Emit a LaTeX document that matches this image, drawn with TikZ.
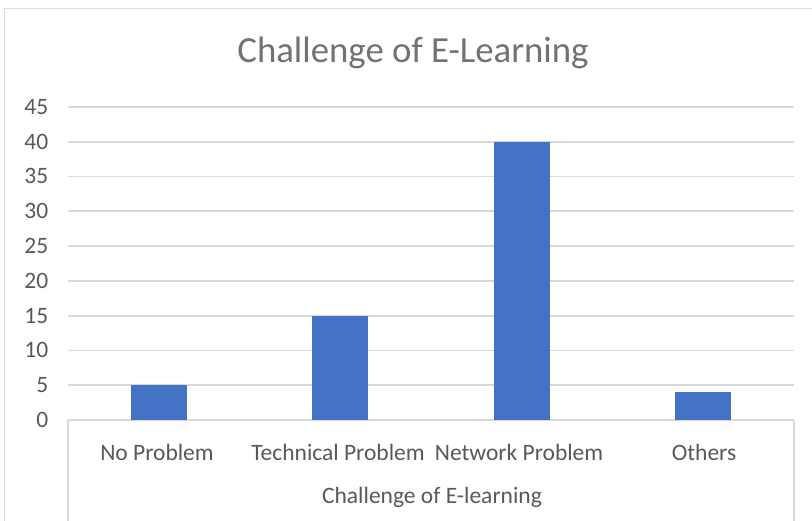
\documentclass[tikz,border=0pt]{standalone}
\usepackage{fontspec}
\setmainfont{Carlito}
\definecolor{txt}{HTML}{595959}
\definecolor{grid}{HTML}{D9D9D9}
\definecolor{bar}{HTML}{4472C4}
\begin{document}
\begin{tikzpicture}[x=1pt,y=-1pt,
  gridline/.style={draw=grid,line width=1.8pt},
  ticklab/.style={anchor=east,inner sep=0pt,text=txt,font=\fontsize{23.5}{28}\selectfont},
  catlab/.style={anchor=center,inner sep=0pt,text=txt,font=\fontsize{23.5}{28}\selectfont},
  barbox/.style={fill=bar,draw=none}]
\useasboundingbox (0,0) rectangle (812,520);
\fill[white] (0,0) rectangle (812,520);
% outer frame
\draw[grid,line width=1.2pt] (4.5,521) -- (4.5,8.5) -- (813,8.5);
% title
\node[text=txt!85,inner sep=0pt,font=\fontsize{36.8}{42}\selectfont] (title) at (413,53) {Challenge of E-Learning};
% gridlines and tick labels
\foreach \v in {0,5,...,45}{
  \draw[gridline] (68,{420-6.96*\v}) -- (794,{420-6.96*\v});
  \node[ticklab] (t\v) at (48.5,{420-6.96*\v}) {\v};
}
% category box
\draw[gridline] (68,420) -- (68,521);
\draw[gridline] (794,420) -- (794,521);
% bars
\foreach \c/\v [count=\i] in {158.75/5,340.25/15,521.75/40,703.25/4}{
  \fill[barbox] ({\c-28},420) rectangle ({\c+28},{420-6.96*\v});
}
% category labels
\node[catlab] (c1) at (157,452) {No Problem};
\node[catlab] (c2) at (338,452) {Technical Problem};
\node[catlab] (c3) at (519,452) {Network Problem};
\node[catlab] (c4) at (704,452) {Others};
\node[catlab] (axt) at (432,497) {Challenge of E-learning};
\end{tikzpicture}
\end{document}
